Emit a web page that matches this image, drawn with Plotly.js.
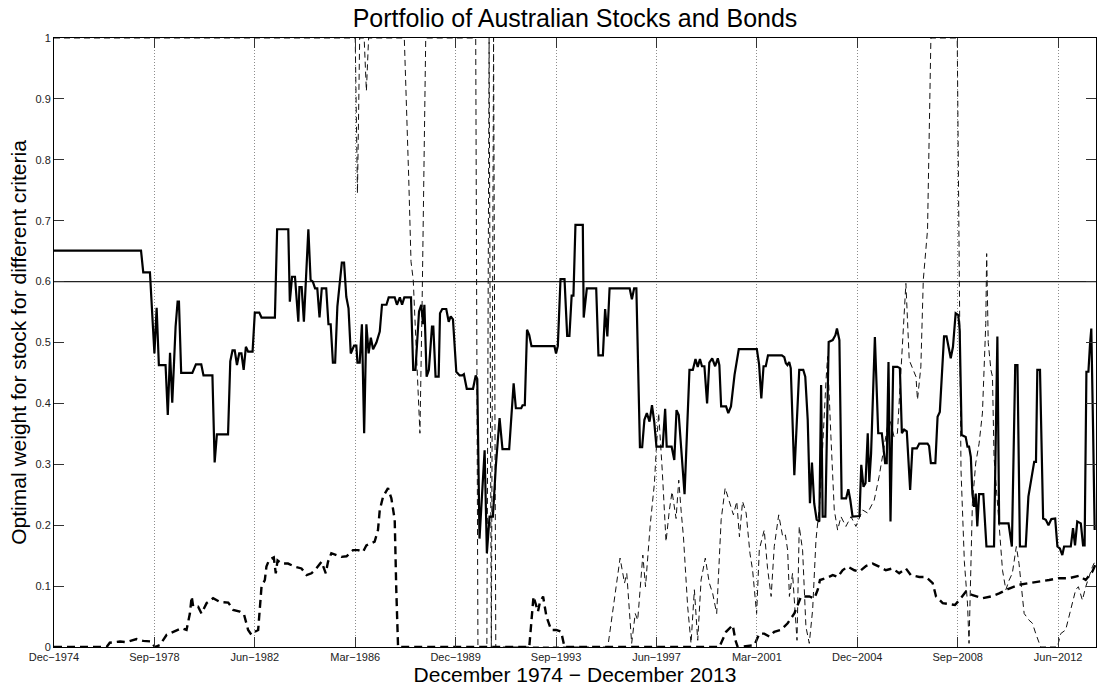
<!DOCTYPE html>
<html>
<head>
<meta charset="utf-8">
<script src="https://cdn.plot.ly/plotly-3.0.1.min.js"></script>
<style>html,body{margin:0;padding:0;background:#fff;}#chart{width:1097px;height:686px;}</style>
</head>
<body>
<div id="chart"></div>
<script>
// Months counted from December 1974 (0) to December 2013
const tickMonths = [0, 45, 90, 135, 180, 225, 270, 315, 360, 405, 450];
const tickLabels = ['Dec\u22121974','Sep\u22121978','Jun\u22121982','Mar\u22121986','Dec\u22121989','Sep\u22121993','Jun\u22121997','Mar\u22122001','Dec\u22122004','Sep\u22122008','Jun\u22122012'];
const weightTicks = [0,0.1,0.2,0.3,0.4,0.5,0.6,0.7,0.8,0.9,1];
const weightTickLabels = ['0','0.1','0.2','0.3','0.4','0.5','0.6','0.7','0.8','0.9','1'];

// Criterion A (thick solid)
const aMonths = [0,39,40,43,45,46,47,50,51,52,53,54.5,55.4,56,57,62,63.6,66,67,71,72,73,78,79,80,81,82,83,84,85,86,87,89,90,92,93,99,100,105,105.7,106.7,108,109.5,110,111,112,114,115,116,117,118,119,120,122,123,124,125,126,127,129,130,131,132,133,134.5,135.5,136,137,138,139,140,141,142,143,144.5,146,147,149,150,152.7,153.7,155,156,157,160,161,162,163.6,164.6,165.4,166,167,168,169.4,170,171,172.4,173,174,175.8,176.9,177.8,178.8,180.3,181.8,183,183.7,185,187.8,189,189.7,190.7,193,194,195.2,196.7,198,199.7,201,204,206,207,209.4,210,211,212,213,214,224.3,225,225.8,227,228.8,230,231,232,232.8,233.7,237,237.4,238.8,243,244,246,247,248,249,258,259,260,261,262.6,263.6,264.6,265.7,266.9,268,269,270,272.8,273.9,274.6,276.8,278,279,280,282.6,284.8,286.3,287.5,288.5,289.5,290.4,291.5,292.7,293.7,295,296.3,297.5,298.2,299,301.2,302.2,303.4,305,306.9,315,316,317,318,319,320,326.2,327.3,328,328.7,329.5,330.2,331.8,333.3,334,335.8,336.7,337.8,338.8,339.7,340.7,341.8,343,343.8,344.5,345.7,347.2,349,350.2,350.9,352,353,355,356,356.9,357.9,361,361.8,362.8,363.7,364.7,365.4,366.2,367.9,369.4,371,371.8,372.5,373.2,374,374.9,376.1,378,379.1,380,381,382.2,383.7,384.7,386.7,387.8,391.5,392.2,393,395,396,397,398.9,400,400.8,401.9,402.9,404.1,405.3,405.9,406.8,408.6,409.4,410.1,410.9,411.6,412.4,413.1,413.8,414.6,416.5,417.9,421.3,422.8,423.6,427.8,429.3,430.8,431.8,432.9,435.5,436.7,439.3,440.1,440.7,441.9,443.3,444.5,445.7,447,448.7,449.7,450.8,451.9,452.7,455.7,456.7,457.6,458.6,460.2,461.2,461.9,462.7,463.6,464.3,464.9,465.7,466.4];
const aWeights = [0.651,0.651,0.615,0.615,0.482,0.557,0.463,0.463,0.381,0.483,0.401,0.526,0.567,0.567,0.450,0.450,0.464,0.464,0.446,0.446,0.303,0.349,0.349,0.469,0.487,0.487,0.463,0.482,0.482,0.455,0.493,0.485,0.485,0.549,0.549,0.541,0.541,0.686,0.686,0.567,0.608,0.608,0.534,0.591,0.591,0.534,0.686,0.603,0.600,0.589,0.589,0.541,0.589,0.589,0.530,0.530,0.467,0.467,0.559,0.631,0.631,0.575,0.556,0.482,0.495,0.495,0.467,0.467,0.530,0.351,0.530,0.482,0.508,0.489,0.500,0.518,0.562,0.562,0.574,0.574,0.562,0.574,0.562,0.574,0.574,0.455,0.455,0.551,0.562,0.530,0.562,0.444,0.455,0.526,0.526,0.444,0.444,0.548,0.555,0.555,0.534,0.543,0.538,0.452,0.446,0.446,0.448,0.424,0.424,0.446,0.440,0.178,0.323,0.154,0.214,0.214,0.296,0.376,0.325,0.325,0.433,0.392,0.392,0.397,0.397,0.521,0.512,0.494,0.494,0.482,0.494,0.604,0.604,0.511,0.511,0.577,0.577,0.693,0.693,0.541,0.589,0.589,0.479,0.479,0.555,0.510,0.589,0.589,0.571,0.589,0.589,0.328,0.328,0.373,0.384,0.370,0.397,0.370,0.329,0.329,0.391,0.329,0.329,0.307,0.389,0.381,0.251,0.455,0.455,0.473,0.460,0.473,0.461,0.461,0.400,0.467,0.474,0.461,0.474,0.463,0.395,0.395,0.384,0.395,0.447,0.489,0.489,0.464,0.408,0.461,0.461,0.479,0.479,0.476,0.466,0.463,0.468,0.458,0.282,0.400,0.455,0.455,0.444,0.373,0.236,0.303,0.236,0.209,0.206,0.430,0.214,0.214,0.501,0.504,0.512,0.523,0.504,0.244,0.244,0.259,0.241,0.214,0.215,0.299,0.263,0.269,0.351,0.271,0.318,0.509,0.351,0.351,0.321,0.302,0.302,0.468,0.206,0.460,0.460,0.458,0.351,0.357,0.354,0.258,0.326,0.326,0.334,0.334,0.330,0.302,0.302,0.378,0.386,0.510,0.510,0.496,0.474,0.493,0.548,0.545,0.521,0.348,0.345,0.329,0.329,0.312,0.252,0.230,0.252,0.198,0.251,0.251,0.165,0.165,0.510,0.203,0.203,0.165,0.463,0.463,0.165,0.165,0.247,0.304,0.304,0.455,0.455,0.211,0.209,0.200,0.210,0.211,0.165,0.162,0.151,0.165,0.165,0.195,0.167,0.206,0.203,0.167,0.167,0.452,0.452,0.496,0.523,0.356,0.192];

// Criterion B (thin dashed)
const bMonths = [0,135,136,137,139,140,141,157,159,160,161,162.5,164,165,166.6,189,190,194,195,196,197,198,248.2,253.7,255.7,256.7,258.9,260.5,261.6,263.9,265.1,267.2,269.1,269.9,271,272.6,274.3,275.8,277,278.8,280,281.1,282.1,284,285.5,287,288.5,290,291.9,293.7,295.2,297,299,300.8,302.7,304.5,306,307.2,308.6,310.2,311.9,313.1,314.9,316.1,318.3,319.8,321.4,322.8,324.8,326.6,327.8,328.8,329.6,331,333,334,335.5,337,338.5,340,341.5,343.3,346,346.7,348.2,349.7,351.2,352.7,354.9,357.2,359.4,362.4,364.6,367.6,369.8,372.1,374.3,376.5,378,381.8,383.3,386.3,387,388.5,389.6,391.5,393,404.8,406.5,408,409.4,410.1,411.6,413.1,414.6,416.1,417.6,418,418.7,419.9,420.6,421.3,423.6,425.1,426.6,428.1,429.5,431.3,432.5,434.8,437,438.5,440,442.2,449.7,451.2,453.4,454.9,456.4,457.9,459.1,460.9,462.4,463.9,465.4,466.9];
const bWeights = [1,1,0.745,1,1,0.913,1,1,0.767,0.633,0.603,0.466,0.351,0.570,1,1,0,0,1,0,1,0,0,0.146,0.105,0.121,0.006,0.055,0.044,0.151,0.099,0.200,0.269,0.323,0.384,0.290,0.173,0.225,0.255,0.211,0.274,0.222,0.181,0.066,0.006,0.094,0.011,0.110,0.146,0.105,0.088,0.055,0.209,0.261,0.239,0.217,0.239,0.181,0.239,0.220,0.154,0.126,0.055,0.160,0.192,0.129,0.083,0.165,0.217,0.181,0.184,0.159,0.083,0.121,0.011,0.198,0.159,0.033,0.006,0.061,0.176,0.241,0.438,0.477,0.345,0.225,0.192,0.214,0.198,0.214,0.198,0.225,0.220,0.241,0.280,0.334,0.378,0.345,0.351,0.597,0.471,0.444,0.406,0.460,0.603,0.685,1,1,0.290,0.140,0.072,0.006,0.236,0.302,0.334,0.384,0.531,0.646,0.500,0.455,0.444,0.312,0.203,0.126,0.094,0.110,0.121,0.165,0.137,0.055,0.044,0.039,0.022,0,0,0.022,0.028,0.050,0.072,0.094,0.099,0.077,0.099,0.115,0.132,0.143];

// Criterion C (thick dashed)
const cMonths = [0,23.6,25,29.6,32.5,34.8,37,40,43.7,45.2,47.4,50.5,53.4,57.2,59.4,60.9,61.7,62.4,64.6,66.1,68.4,71.3,74.3,78.1,80.3,83.3,85.2,87,88.5,90,91.5,92.2,93,94.5,95.2,96.4,98.5,99.4,100.2,102,104.9,107.9,110.9,113.2,115.4,117.6,119.9,121.8,122.8,124.3,126.6,128.8,131.1,134,136.3,138.5,140,142.3,143.7,145.2,146,147.5,149.7,151.2,152.7,153.4,154.2,213,214.9,216.9,217.7,219.2,220.7,222.8,225.1,227.3,228.8,298.2,301.2,304.2,305.4,306.4,313.9,316.1,318.3,320.6,322.8,325.8,328.8,330.3,331.8,333.3,334.8,336.3,338.5,340.8,342.3,343.3,346,349,351.3,353.4,355.7,358.7,361,363.9,366.9,369.8,372.8,375.8,378.8,381.8,384,387.8,390.8,393.8,395.3,398.3,403.8,406.4,408.7,411.7,416.1,419.9,423.6,428.1,432.5,437,441.5,446,450.4,454.9,459.4,462.4,465.4,466.9];
const cWeights = [0,0,0.007,0.009,0.008,0.011,0.013,0.010,0.009,0,0.003,0.020,0.025,0.031,0.028,0.055,0.083,0.066,0.066,0.055,0.072,0.080,0.074,0.073,0.061,0.058,0.053,0.028,0.020,0.025,0.028,0.066,0.099,0.110,0.132,0.143,0.147,0.121,0.142,0.137,0.137,0.132,0.129,0.118,0.121,0.129,0.140,0.121,0.140,0.154,0.151,0.148,0.149,0.159,0.159,0.156,0.167,0.170,0.173,0.192,0.225,0.247,0.261,0.244,0.209,0.094,0,0,0.083,0.058,0.072,0.083,0.050,0.028,0.028,0.025,0,0,0.025,0.036,0.011,0,0.003,0.022,0.022,0.017,0.025,0.028,0.039,0.047,0.055,0.069,0.083,0.083,0.083,0.080,0.094,0.110,0.113,0.118,0.115,0.126,0.132,0.126,0.124,0.133,0.137,0.132,0.126,0.129,0.121,0.129,0.118,0.115,0.115,0.105,0.083,0.072,0.069,0.080,0.091,0.085,0.080,0.083,0.088,0.096,0.102,0.105,0.107,0.110,0.113,0.113,0.117,0.110,0.124,0.137];

// Criterion D (constant reference weight)
const dMonths = [0, 467];
const dWeights = [0.6, 0.6];

const font = 'Liberation Sans, Arial, Helvetica, sans-serif';

const traces = [
  {x: dMonths, y: dWeights, mode: 'lines', line: {color: '#222', width: 1.3}, hoverinfo: 'skip'},
  {x: bMonths, y: bWeights, mode: 'lines', line: {color: '#111', width: 1, dash: '6px,4px'}},
  {x: cMonths, y: cWeights, mode: 'lines', line: {color: '#000', width: 2.4, dash: '8px,5px'}},
  {x: aMonths, y: aWeights, mode: 'lines', line: {color: '#000', width: 2.2}}
];

const layout = {
  width: 1097, height: 686,
  margin: {l: 54, r: 1, t: 38, b: 39},
  paper_bgcolor: '#fff', plot_bgcolor: '#fff',
  showlegend: false,
  font: {family: font, color: '#000'},
  title: {text: 'Portfolio of Australian Stocks and Bonds', font: {family: font, size: 25, color: '#000'},
          x: 0.5, xanchor: 'center', xref: 'paper', y: (686 - 27) / 686, yref: 'container', yanchor: 'bottom'},
  xaxis: {
    range: [0, 467], tickvals: tickMonths, ticktext: tickLabels,
    ticks: 'inside', ticklen: 10, tickwidth: 1, tickcolor: '#333',
    showline: true, linecolor: '#000', linewidth: 1, mirror: 'ticks',
    showgrid: true, gridcolor: '#8c8c8c', gridwidth: 1, griddash: '1px,2px',
    zeroline: false, tickfont: {family: font, size: 11, color: '#222'},
    title: {text: 'December 1974 \u2212 December 2013', font: {family: font, size: 21, color: '#000'}, standoff: 6}
  },
  yaxis: {
    range: [0, 1], tickvals: weightTicks, ticktext: weightTickLabels,
    ticks: 'inside', ticklen: 10, tickwidth: 1, tickcolor: '#333',
    showline: true, linecolor: '#000', linewidth: 1, mirror: 'ticks',
    showgrid: false, zeroline: false, tickfont: {family: font, size: 11, color: '#222'},
    title: {text: 'Optimal weight for stock for different criteria', font: {family: font, size: 21, color: '#000'}, standoff: 3}
  }
};

Plotly.newPlot('chart', traces, layout, {staticPlot: true, displayModeBar: false});
</script>
</body>
</html>
